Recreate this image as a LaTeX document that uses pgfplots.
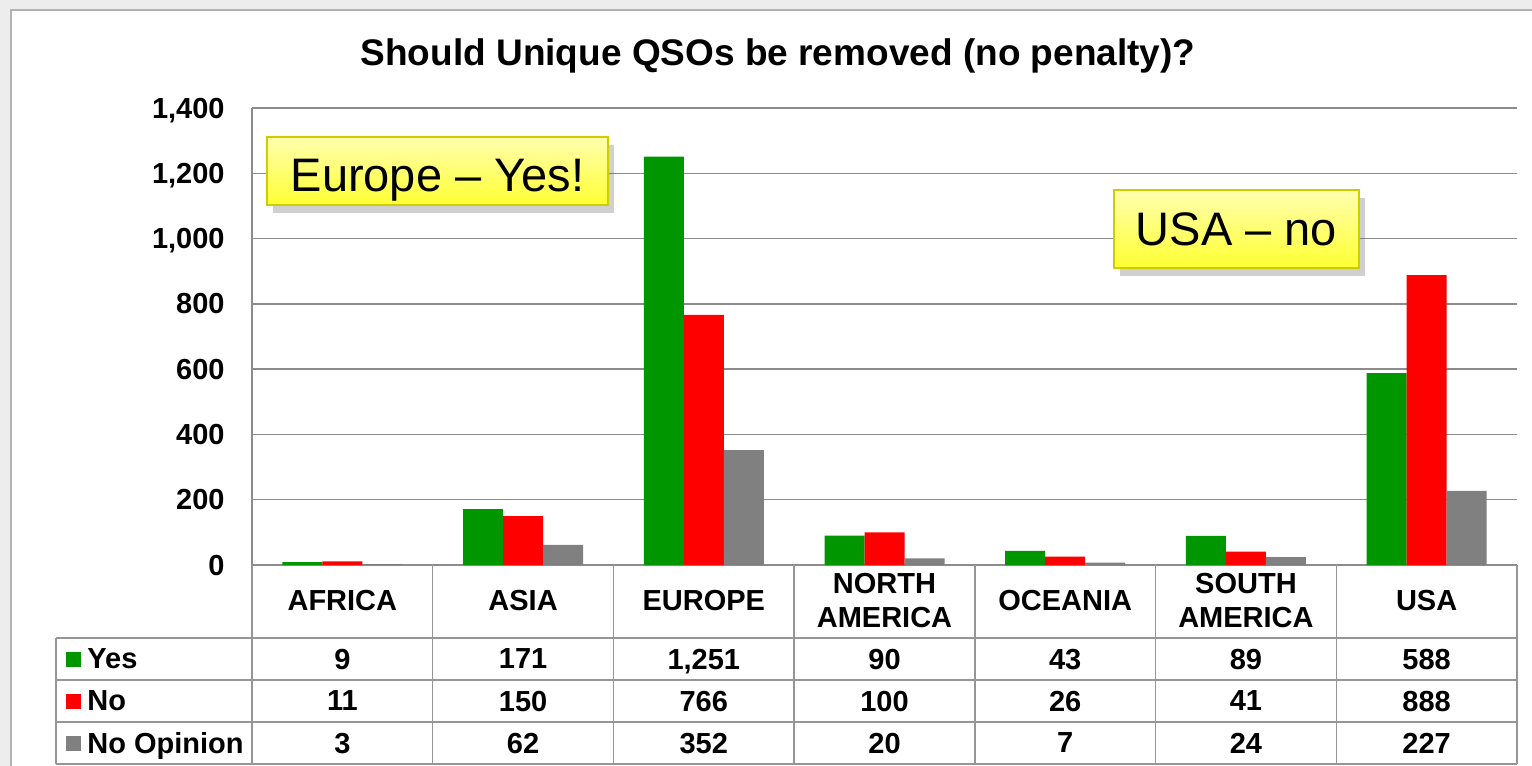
\documentclass[border=0pt]{standalone}
\usepackage{fontspec}
\setmainfont{Liberation Sans}
\usepackage{pgfplots}
\pgfplotsset{compat=1.18}
\usetikzlibrary{shadows}

\definecolor{yesgreen}{RGB}{0,150,0}
\definecolor{nored}{RGB}{255,0,0}
\definecolor{nogray}{RGB}{128,128,128}
\definecolor{gridgray}{RGB}{140,140,140}
\definecolor{tablegray}{RGB}{150,150,150}
\definecolor{boxedge}{RGB}{205,205,0}

\newcommand\lbl{\bfseries\fontsize{14.5}{17}\selectfont}

\begin{document}
\begin{tikzpicture}
% background and frame (1 px = 0.5pt, y down)
\begin{scope}[x=0.5pt,y=-0.5pt]
  \fill[gray!14] (0,0) rectangle (1532,766);
  \fill[white] (11,10) rectangle (1532,766);
  \draw[gray!60, line width=1pt] (11,766) -- (11,10) -- (1532,10);
\end{scope}

\begin{axis}[
  at={(126pt,-282.5pt)}, anchor=south west,
  scale only axis,
  width=632.5pt, height=228.5pt,
  xmin=-0.5, xmax=6.5,
  ymin=0, ymax=1400,
  ytick={0,200,...,1400},
  xtick=\empty,
  ybar=0pt, bar width=20pt,
  axis y line*=left, axis x line*=bottom,
  axis line style={draw=gridgray, line width=0.75pt},
  ymajorgrids,
  grid style={draw=gridgray, line width=0.7pt},
  major tick length=0pt,
  yticklabel style={inner sep=0pt, xshift=-13.5pt, font=\lbl, text depth=0pt},
  /pgf/number format/assume math mode=true,
  /pgf/number format/1000 sep={,},
  clip=false,
]
\addplot[fill=yesgreen, draw=none] coordinates {
  (0,9) (1,171) (2,1251) (3,90) (4,43) (5,89) (6,588)};
\addplot[fill=nored, draw=none] coordinates {
  (0,11) (1,150) (2,766) (3,100) (4,26) (5,41) (6,888)};
\addplot[fill=nogray, draw=none] coordinates {
  (0,3) (1,62) (2,352) (3,20) (4,7) (5,24) (6,227)};
\end{axis}

\begin{scope}[x=0.5pt,y=-0.5pt, cell/.style={font=\lbl, inner sep=0pt, text depth=0pt}]
  % title
  \node[font=\bfseries\fontsize{18.5}{22}\selectfont, inner sep=0pt, text depth=0pt] at (778,52)
    {Should Unique QSOs be removed (no penalty)?};

  % data table
  \foreach \yy in {638,680,722,764}
    \draw[tablegray, line width=0.75pt] (56,\yy) -- (1517,\yy);
  \draw[tablegray, line width=0.75pt] (56,638) -- (56,764);
  \foreach \k in {0,...,7}
    \draw[tablegray, line width=0.75pt] ({252+180.714*\k},565) -- ({252+180.714*\k},764);

  \foreach \name [count=\k from 0] in {AFRICA,ASIA,EUROPE,NORTH\\AMERICA,OCEANIA,SOUTH\\AMERICA,USA}
    \node[font=\lbl, align=center, inner sep=0pt] at ({252+180.714*(\k+0.5)},601) {\name};
  \foreach \v [count=\k from 0] in {9,171,{1,251},90,43,89,588}
    \node[cell] at ({252+180.714*(\k+0.5)},659) {\v};
  \foreach \v [count=\k from 0] in {11,150,766,100,26,41,888}
    \node[cell] at ({252+180.714*(\k+0.5)},701) {\v};
  \foreach \v [count=\k from 0] in {3,62,352,20,7,24,227}
    \node[cell] at ({252+180.714*(\k+0.5)},743) {\v};

  % legend column
  \fill[yesgreen] (66,651.5) rectangle (81,666.5);
  \fill[nored] (66,693.5) rectangle (81,708.5);
  \fill[nogray] (66,735.5) rectangle (81,750.5);
  \node[cell, anchor=west] at (87,659) {Yes};
  \node[cell, anchor=west] at (87,701) {No};
  \node[cell, anchor=west] at (87,743) {No Opinion};

  % callouts
  \path[drop shadow={shadow xshift=3pt, shadow yshift=-4pt, opacity=0.3, fill=black!60},
        top color={rgb,255:red,255;green,255;blue,175},
        bottom color={rgb,255:red,255;green,255;blue,50},
        draw=boxedge, line width=0.75pt]
    (267,137) rectangle (608,205);
  \node[font=\fontsize{23.5}{27}\selectfont, inner sep=0pt, text depth=0pt] at (437.5,175) {Europe -- Yes!};
  \path[drop shadow={shadow xshift=3pt, shadow yshift=-4pt, opacity=0.3, fill=black!60},
        top color={rgb,255:red,255;green,255;blue,175},
        bottom color={rgb,255:red,255;green,255;blue,50},
        draw=boxedge, line width=0.75pt]
    (1114,190) rectangle (1359,268);
  \node[font=\fontsize{23.5}{27}\selectfont, inner sep=0pt, text depth=0pt] at (1236.5,229) {USA -- no};
\end{scope}

\pgfresetboundingbox
\path[use as bounding box] (0,0) rectangle (766pt,-383pt);
\end{tikzpicture}
\end{document}
